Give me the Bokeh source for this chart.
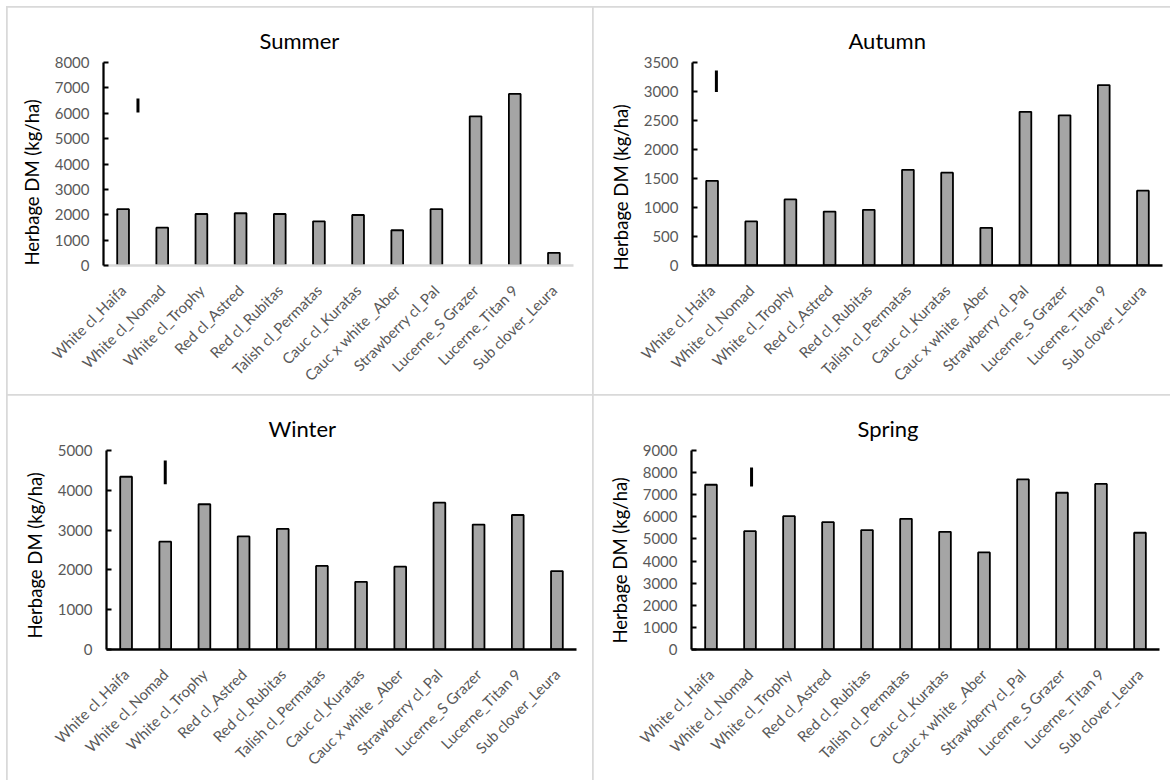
from math import pi

from bokeh.embed import file_html
from bokeh.layouts import column, row
from bokeh.models import FixedTicker, Range1d, Title
from bokeh.plotting import figure
from bokeh.resources import INLINE

# Cultivars (x categories), in display order
cultivars = [
    "White cl_Haifa", "White cl_Nomad", "White cl_Trophy", "Red cl_Astred",
    "Red cl_Rubitas", "Talish cl_Permatas", "Cauc cl_Kuratas",
    "Cauc x white _Aber", "Strawberry cl_Pal", "Lucerne_S Grazer",
    "Lucerne_Titan 9", "Sub clover_Leura",
]

seasons = ["Summer", "Autumn", "Winter", "Spring"]

# Seasonal herbage dry matter (kg/ha) per cultivar
summer = [2220, 1490, 2030, 2060, 2030, 1740, 1990, 1390, 2220, 5880, 6760, 500]
autumn = [1460, 760, 1140, 930, 960, 1650, 1600, 650, 2650, 2590, 3110, 1290]
winter = [4340, 2710, 3650, 2840, 3030, 2100, 1700, 2080, 3690, 3140, 3380, 1970]
spring = [7450, 5350, 6030, 5760, 5400, 5910, 5320, 4390, 7690, 7090, 7490, 5280]

# LSD bar for each season: position on the category axis, lower and upper end
lsd_x = [0.88, 0.61, 1.50, 1.54]
lsd_low = [6030, 2990, 4150, 7370]
lsd_high = [6580, 3360, 4750, 8230]

# y axis extent and tick step per season
y_max = [8000, 3500, 5000, 9000]
y_step = [1000, 500, 1000, 1000]

FONT = "Lato"
TICK_GREY = "#595959"
BORDER_GREY = "#d9d9d9"
Y_TITLE = "Herbage DM (kg/ha)"

# panel geometry in pixels:
# (width, height, border left, right, top, bottom)
panel_geom = [
    (586, 388, 96, 20, 55, 130),
    (577, 388, 99, 8, 54, 130),
    (586, 385, 99, 17, 53, 131),
    (577, 385, 98, 11, 55, 131),
]
# chart title: left edge offset from the frame's left side (px)
title_offset = [156, 156, 162, 166]
# y title: shift up from the bottom of the frame (px)
ytitle_offset = [0, -5, 11, 6]


def make_panel(k, values):
    w, h, ml, mr, mt, mb = panel_geom[k]
    n = len(cultivars)
    xs = [i + 0.5 for i in range(n)]

    p = figure(
        width=w, height=h,
        x_range=Range1d(0, n), y_range=Range1d(0, y_max[k]),
        output_backend="svg", toolbar_location=None, tools="",
        min_border_left=ml, min_border_right=mr,
        min_border_top=mt, min_border_bottom=mb,
        styles={"outline": f"2px solid {BORDER_GREY}", "outline-offset": "-1px"},
    )
    p.outline_line_color = None
    p.background_fill_color = "white"
    p.border_fill_color = "white"
    p.xgrid.visible = False
    p.ygrid.visible = False

    p.vbar(x=xs, top=values, bottom=0, width=0.3,
           fill_color="#a5a5a5", line_color="black", line_width=1.8)

    p.segment(x0=[lsd_x[k]], y0=[lsd_low[k]], x1=[lsd_x[k]], y1=[lsd_high[k]],
              line_color="black", line_width=3)

    # chart title above the frame
    p.add_layout(Title(
        text=seasons[k], align="left", offset=title_offset[k], standoff=18,
        text_font=FONT, text_font_size="22px", text_font_style="normal",
        text_color="black",
    ), "above")

    xa = p.xaxis[0]
    xa.ticker = FixedTicker(ticks=xs)
    xa.major_label_overrides = {x: name for x, name in zip(xs, cultivars)}
    xa.major_label_orientation = pi / 4
    xa.major_label_text_font = FONT
    xa.major_label_text_font_size = "15px"
    xa.major_label_text_color = TICK_GREY
    xa.major_label_standoff = 22
    xa.major_tick_in = 0
    xa.major_tick_out = 0
    xa.minor_tick_in = 0
    xa.minor_tick_out = 0
    xa.axis_line_width = 2.5
    xa.axis_line_color = BORDER_GREY if k == 0 else "black"

    ya = p.yaxis[0]
    ya.ticker = FixedTicker(ticks=list(range(0, y_max[k] + 1, y_step[k])))
    ya.major_label_text_font = FONT
    ya.major_label_text_font_size = "15px"
    ya.major_label_text_color = TICK_GREY
    ya.major_label_standoff = 14
    ya.major_tick_in = 5
    ya.major_tick_out = 0
    ya.major_tick_line_width = 2
    ya.minor_tick_in = 0
    ya.minor_tick_out = 0
    ya.axis_line_width = 2.25
    ya.axis_line_color = "black"

    # y axis title, placed beside the tick labels
    p.add_layout(Title(
        text=Y_TITLE, align="left", offset=ytitle_offset[k], standoff=18,
        text_font=FONT, text_font_size="18.5px", text_font_style="normal",
        text_color="black",
    ), "left")
    return p


panels = [make_panel(k, v) for k, v in enumerate([summer, autumn, winter, spring])]

layout = column(
    row(panels[0], panels[1]),
    row(panels[2], panels[3]),
    margin=(7, 0, 0, 7),
)

open("out.html", "w").write(file_html(layout, INLINE))
